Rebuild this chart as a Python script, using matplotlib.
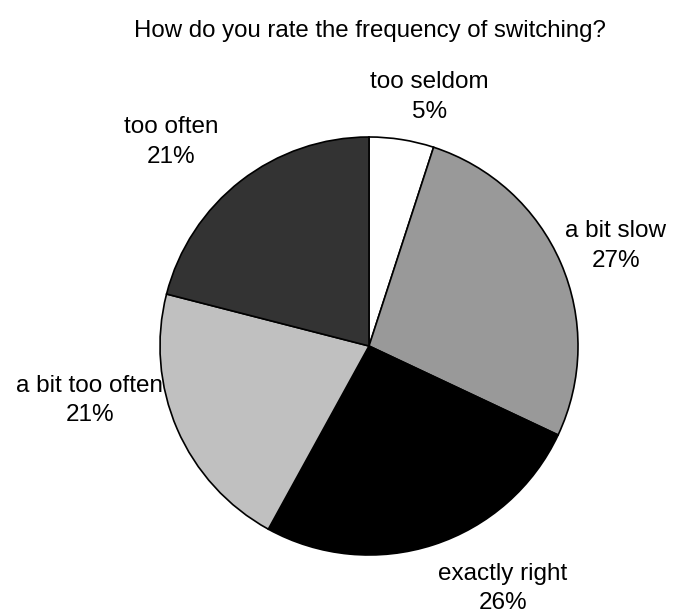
import matplotlib.pyplot as plt

labels = ['too seldom', 'a bit slow', 'exactly right', 'a bit too often', 'too often']
shares = [5, 27, 26, 21, 21]
colors = ['#ffffff', '#999999', '#000000', '#c0c0c0', '#333333']

# label centres, in pie radius units from the centre
label_pos = [(0.29, 1.19), (1.18, 0.48), (0.64, -1.16), (-1.335, -0.26), (-0.945, 0.975)]

plt.rcParams['font.family'] = ['Liberation Sans', 'DejaVu Sans']

fig = plt.figure(figsize=(6.75, 6.14), dpi=100)
ax = fig.add_axes([0, 0, 1, 1])

ax.pie(shares, colors=colors, startangle=90, counterclock=False, radius=1,
       wedgeprops=dict(edgecolor='black', linewidth=1.2))

for lab, val, (x, y) in zip(labels, shares, label_pos):
    ax.text(x, y, lab + '\n' + str(val) + '%', ha='center', va='center',
            fontsize=17.5, linespacing=1.45)

ax.text(0.005, 1.505, 'How do you rate the frequency of switching?', ha='center',
        va='center', fontsize=17.3)

# pie centre at about (369, 346) px, radius about 209 px
ax.set_xlim(-369 / 209, (675 - 369) / 209)
ax.set_ylim(-(614 - 346) / 209, 346 / 209)
ax.set_aspect('auto')
ax.axis('off')

fig.savefig('out.png', dpi=100)
